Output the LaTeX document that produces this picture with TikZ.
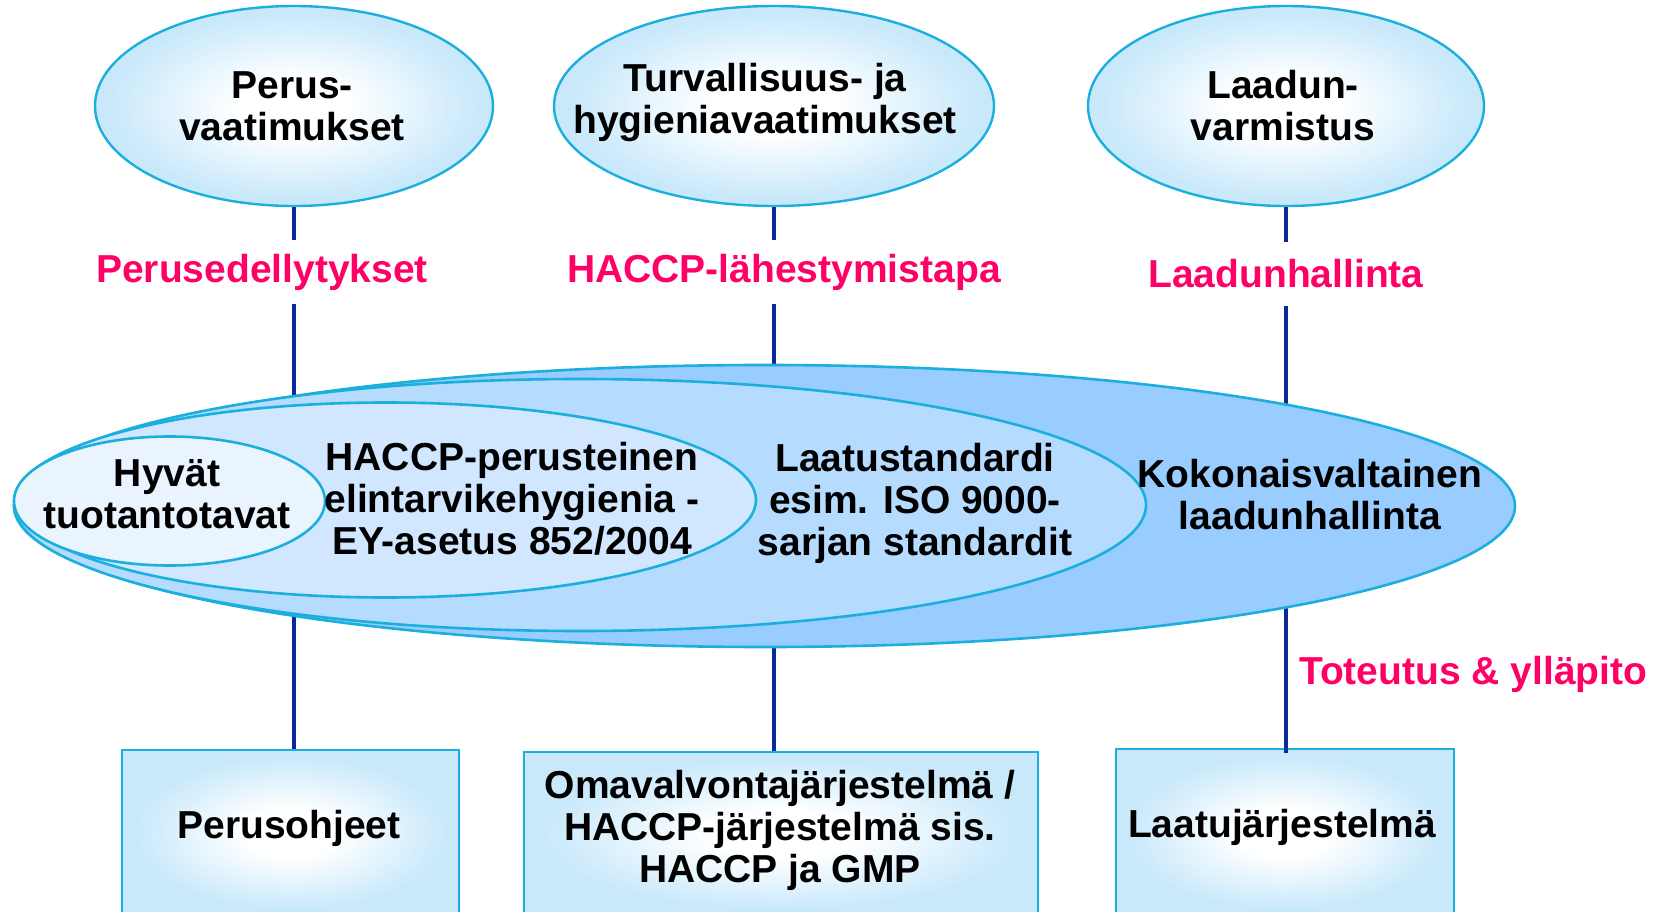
\documentclass[tikz,border=0pt]{standalone}
\usepackage{fontspec}
\setmainfont{Liberation Sans}
\usetikzlibrary{shapes.geometric}
\definecolor{edgecyan}{HTML}{1AAFDD}
\definecolor{navyline}{HTML}{0A2A9C}
\definecolor{pinkred}{HTML}{FF0066}
\definecolor{boxblue}{HTML}{C9E9FB}
\definecolor{fillA}{HTML}{99CCFF}
\definecolor{fillB}{HTML}{B5DBFF}
\definecolor{fillC}{HTML}{D0E7FF}
\definecolor{fillD}{HTML}{E9F4FF}
\pgfdeclareradialshading{softglow}{\pgfpoint{0bp}{0bp}}{color(0bp)=(white); color(7bp)=(white); color(23bp)=(boxblue); color(50bp)=(boxblue)}
\begin{document}
\begin{tikzpicture}[x=1pt,y=-1pt,
  txt/.style={font=\fontsize{39}{42}\selectfont\bfseries, align=center, inner sep=0pt},
  topell/.style={ellipse, draw=edgecyan, line width=2.4pt, shading=softglow, inner sep=0pt},
  bigell/.style={ellipse, draw=edgecyan, line width=2.6pt, inner sep=0pt},
  conn/.style={draw=navyline, line width=3.4pt},
  lab/.style={txt, text=pinkred, minimum height=64pt},
  boxst/.style={rectangle, draw=edgecyan, line width=2.2pt, shading=softglow, inner sep=0pt}]
\path[use as bounding box] (0,0) rectangle (1659,912);
\clip (0,0) rectangle (1659,912);

% top ellipses
\node[topell, minimum width=398pt, minimum height=200pt] (e1) at (294,106) {};
\node[topell, minimum width=440pt, minimum height=200pt] (e2) at (774,106) {};
\node[topell, minimum width=396pt, minimum height=200pt] (e3) at (1286,106) {};
\node[txt] (t1) at (292,106) {Perus-\\vaatimukset};
\node[txt] (t2) at (765,103) {Turvallisuus- ja\\hygieniavaatimukset};
\node[txt] (t3) at (1283,106) {Laadun-\\varmistus};

% labels
\node[lab] (l1) at (262,272) {Perusedellytykset};
\node[lab] (l2) at (784,272) {HACCP-lähestymistapa};
\node[lab] (l3) at (1286,274) {Laadunhallinta};

% boxes
\node[boxst, minimum width=337pt, minimum height=166pt] (b1) at (290.5,833) {};
\node[boxst, minimum width=514pt, minimum height=164pt] (b2) at (781,834) {};
\node[boxst, minimum width=338pt, minimum height=167pt] (b3) at (1285,832.5) {};

% connectors
\draw[conn] (e1.south) -- (e1.south |- l1.north);
\draw[conn] (e1.south |- l1.south) -- (e1.south |- b1.north);
\draw[conn] (e2.south) -- (e2.south |- l2.north);
\draw[conn] (e2.south |- l2.south) -- (e2.south |- b2.north);
\draw[conn] (e3.south) -- (e3.south |- l3.north);
\draw[conn] (e3.south |- l3.south) -- ([yshift=-5pt]e3.south |- b3.north);

% nested ellipses
\node[bigell, fill=fillA, minimum width=1501pt, minimum height=282pt] (k4) at (764.5,506) {};
\node[bigell, fill=fillB, minimum width=1132pt, minimum height=252pt] (k3) at (580,505) {};
\node[bigell, fill=fillC, minimum width=740pt, minimum height=195pt] (k2) at (386,500) {};
\node[bigell, fill=fillD, minimum width=311pt, minimum height=129pt] (k1) at (169.5,501) {};
\node[txt] (tk1) at (167,494) {Hyvät\\tuotantotavat};
\node[txt] (tk2) at (512,499) {HACCP-perusteinen\\elintarvikehygienia -\\EY-asetus 852/2004};
\node[txt] (tk3) at (915,503) {Laatustandardi\\esim. ISO 9000-\\sarjan standardit};
\node[txt] (tk4) at (1310,495) {Kokonaisvaltainen\\laadunhallinta};

\node[txt, text=pinkred, anchor=west] (l4) at (1299,674) {Toteutus \& ylläpito};

% box texts
\node[txt] (bt1) at (289,828) {Perusohjeet};
\node[txt] (bt2) at (780,830) {Omavalvontajärjestelmä /\\HACCP-järjestelmä sis.\\HACCP ja GMP};
\node[txt] (bt3) at (1282,827) {Laatujärjestelmä};
\end{tikzpicture}
\end{document}
